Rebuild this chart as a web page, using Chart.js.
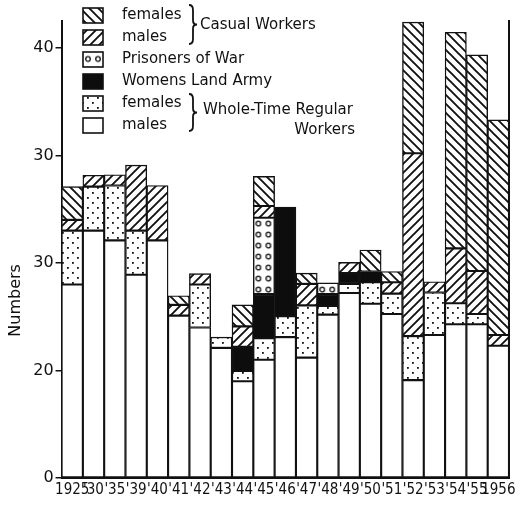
<!DOCTYPE html>
<html>
<head>
<meta charset="utf-8">
<script src="https://cdn.jsdelivr.net/npm/chart.js@4.4.1/dist/chart.umd.min.js"></script>
<style>
  html, body { margin: 0; padding: 0; background: #fff; }
  #wrap { width: 531px; height: 507px; position: relative; }
</style>
</head>
<body>
<div id="wrap"><canvas id="labour-chart"></canvas></div>
<script>
// years along the bottom
const years = ['1925', "'30", "'35", "'39", "'40", "'41", "'42", "'43", "'44", "'45", "'46",
               "'47", "'48", "'49", "'50", "'51", "'52", "'53", "'54", "'55", '1956'];

// stacked from the bottom up
const regularMales   = [18.0, 23.0, 22.1, 18.9, 22.1, 15.1, 14.0, 12.1, 9.0, 11.0, 13.1,
                        11.2, 15.2, 17.2, 16.2, 15.25, 9.1, 13.3, 14.3, 14.3, 12.3];
const regularFemales = [5.0, 4.1, 5.1, 4.1, null, null, 4.0, 1.0, 0.95, 2.0, 1.95,
                        4.85, 0.8, 0.85, 2.0, 1.9, 4.1, 3.95, 1.95, 0.95, null];
const landArmy       = [null, null, null, null, null, null, null, null, 2.25, 4.1, 10.15,
                        null, 1.1, 1.0, 1.0, null, null, null, null, null, null];
const prisoners      = [null, null, null, null, null, null, null, null, null, 7.1, null,
                        null, 1.05, null, null, null, null, null, null, null, null];
const casualMales    = [1.0, 1.05, 1.0, 6.1, 5.1, 1.0, 1.0, null, 1.9, 1.1, null,
                        2.0, null, 1.0, null, 1.05, 17.0, 1.0, 5.1, 4.0, 1.0];
const casualFemales  = [3.1, null, null, null, null, 0.85, null, null, 2.0, 2.75, null,
                        1.0, null, null, 2.0, 1.0, 12.2, null, 20.1, 20.1, 20.0];

// y axis as printed on the figure
const yTickValues = [0, 10, 20, 30, 40];
const yTickLabels = ['0', '20', '30', '30', '40'];

// legend rows, top to bottom (ds = dataset index)
const legendRows = [
    { label: 'females', ds: 5 },
    { label: 'males', ds: 4 },
    { label: 'Prisoners of War', ds: 3 },
    { label: 'Womens Land Army', ds: 2 },
    { label: 'females', ds: 1 },
    { label: 'males', ds: 0 }
];
const casualGroupLabel = 'Casual Workers';
const regularGroupLabel = ['Whole-Time Regular', 'Workers'];

const INK = '#111';

function makeTile(w, h, draw) {
    const c = document.createElement('canvas');
    c.width = w; c.height = h;
    const g = c.getContext('2d');
    g.fillStyle = '#fff';
    g.fillRect(0, 0, w, h);
    g.strokeStyle = INK;
    g.fillStyle = INK;
    draw(g);
    return g.createPattern(c, 'repeat');
}

function hatch(forward) {
    const s = 9;
    return makeTile(s, s, g => {
        g.lineWidth = 1.9;
        g.beginPath();
        if (forward) { // '/'
            g.moveTo(-2, s + 2); g.lineTo(s + 2, -2);
            g.moveTo(-2, 2); g.lineTo(2, -2);
            g.moveTo(s - 2, s + 2); g.lineTo(s + 2, s - 2);
        } else { // '\'
            g.moveTo(-2, -2); g.lineTo(s + 2, s + 2);
            g.moveTo(-2, s - 2); g.lineTo(2, s + 2);
            g.moveTo(s - 2, -2); g.lineTo(s + 2, 2);
        }
        g.stroke();
    });
}

const dots = makeTile(10, 10, g => {
    g.fillRect(2, 2, 1.8, 1.8);
    g.fillRect(7, 7, 1.8, 1.8);
});

// ring pattern lined up with the corner of whatever it fills
function ringsFrom(left, bottom) {
    const p = makeTile(10, 11, g => {
        g.lineWidth = 1.3;
        g.beginPath();
        g.arc(5, 5.5, 2.3, 0, Math.PI * 2);
        g.stroke();
    });
    p.setTransform(new DOMMatrix().translate(left, bottom));
    return p;
}

function ringsForBar(c) {
    const x = c.chart.scales.x, y = c.chart.scales.y;
    if (!x || !y || !x.ticks.length) return ringsFrom(0, 0);
    const band = x.width / x.ticks.length;
    let base = 0;
    for (let d = 0; d < c.datasetIndex; d++) {
        base += c.chart.data.datasets[d].data[c.dataIndex] || 0;
    }
    return ringsFrom(x.getPixelForValue(c.dataIndex) - band / 2, y.getPixelForValue(base) + 1);
}

function drawBrace(ctx, x, y1, y2) {
    const m = (y1 + y2) / 2, w = 4;
    ctx.beginPath();
    ctx.moveTo(x, y1);
    ctx.quadraticCurveTo(x + w, y1, x + w, y1 + 5);
    ctx.lineTo(x + w, m - 4);
    ctx.quadraticCurveTo(x + w, m, x + 2 * w, m);
    ctx.quadraticCurveTo(x + w, m, x + w, m + 4);
    ctx.lineTo(x + w, y2 - 5);
    ctx.quadraticCurveTo(x + w, y2, x, y2);
    ctx.stroke();
}

const boxLegend = {
    id: 'boxLegend',
    afterDraw(chart) {
        const ctx = chart.ctx;
        ctx.save();
        ctx.font = '15px "DejaVu Sans"';
        ctx.textBaseline = 'middle';
        ctx.lineWidth = 1.6;
        ctx.strokeStyle = INK;
        legendRows.forEach((row, i) => {
            const bg = chart.data.datasets[row.ds].backgroundColor;
            const y = 15 + i * 22;
            ctx.fillStyle = typeof bg === 'function' ? ringsFrom(83, y - 5.5) : bg;
            ctx.fillRect(83, y - 7, 20, 15);
            ctx.strokeRect(83, y - 7, 20, 15);
            ctx.fillStyle = INK;
            ctx.fillText(row.label, 122, y);
        });
        ctx.lineWidth = 1.8;
        drawBrace(ctx, 189, 5, 44);
        drawBrace(ctx, 189, 94, 131);
        ctx.fillText(casualGroupLabel, 200, 25);
        ctx.fillText(regularGroupLabel[0], 203, 110);
        ctx.textAlign = 'right';
        ctx.fillText(regularGroupLabel[1], 355, 130);
        ctx.restore();
    }
};

function segment(label, values, fill) {
    return {
        label: label,
        data: values,
        backgroundColor: fill,
        borderColor: INK,
        borderWidth: 1.4,
        borderSkipped: false,
        barPercentage: 1,
        categoryPercentage: 1
    };
}

Chart.defaults.font.family = '"DejaVu Sans"';
Chart.defaults.color = INK;

const ctx = document.getElementById('labour-chart').getContext('2d');
new Chart(ctx, {
    type: 'bar',
    data: {
        labels: years,
        datasets: [
            segment('Regular males', regularMales, '#fff'),
            segment('Regular females', regularFemales, dots),
            segment('Womens Land Army', landArmy, '#0d0d0d'),
            segment('Prisoners of War', prisoners, ringsForBar),
            segment('Casual males', casualMales, hatch(true)),
            segment('Casual females', casualFemales, hatch(false))
        ]
    },
    options: {
        responsive: true,
        maintainAspectRatio: false,
        animation: false,
        layout: { padding: { left: 6, right: 22, top: 21, bottom: 5 } },
        plugins: {
            legend: { display: false },
            tooltip: { enabled: false }
        },
        scales: {
            x: {
                stacked: true,
                grid: { display: false, drawTicks: false },
                border: { display: true, color: INK, width: 2 },
                ticks: {
                    autoSkip: false,
                    maxRotation: 0,
                    padding: 3,
                    font: { family: '"DejaVu Sans Condensed"', size: 15 }
                }
            },
            y: {
                stacked: true,
                min: 0,
                max: 42.5,
                afterBuildTicks: scale => {
                    scale.ticks = yTickValues.map(v => ({ value: v }));
                },
                grid: { drawOnChartArea: false, drawTicks: true, tickLength: 6, color: INK, lineWidth: 1.5 },
                border: { display: true, color: INK, width: 2 },
                ticks: {
                    padding: 2,
                    font: { size: 16 },
                    callback: v => yTickLabels[yTickValues.indexOf(v)]
                },
                title: {
                    display: true,
                    text: 'Numbers' + ' '.repeat(20),
                    font: { size: 16 },
                    padding: { top: 0, bottom: 6 }
                }
            },
            y2: {
                position: 'right',
                min: 0,
                max: 42.5,
                grid: { display: false, drawTicks: false },
                ticks: { display: false },
                border: { display: true, color: INK, width: 2 }
            }
        }
    },
    plugins: [boxLegend]
});
</script>
</body>
</html>
